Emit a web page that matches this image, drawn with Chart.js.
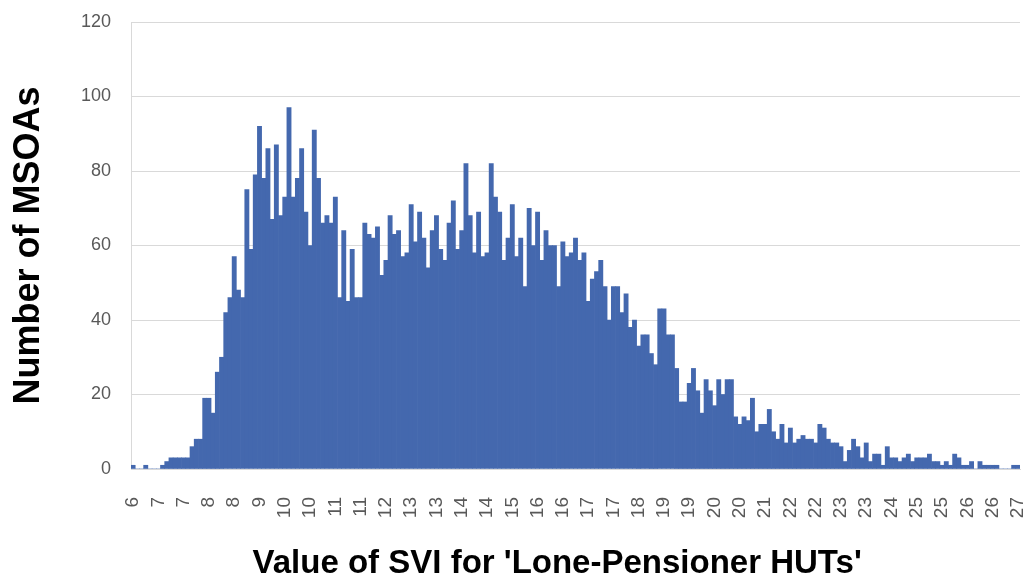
<!DOCTYPE html>
<html>
<head>
<meta charset="utf-8">
<title>SVI histogram</title>
<script src="https://cdn.jsdelivr.net/npm/chart.js@4.4.1/dist/chart.umd.min.js"></script>
<style>
  html, body { margin: 0; padding: 0; background: #fff; }
  #wrap { width: 1032px; height: 584px; }
</style>
</head>
<body>
<div id="wrap"><canvas id="myChart" width="1032" height="584"></canvas></div>
<script>
// Histogram bins: 0.1 wide, 6.0 ... 27.0
const binStart = 6.0;
const binWidth = 0.1;
const binCount = 211;

// Number of MSOAs per bin
const counts = [
    1, 0, 0, 1, 0, 0, 0, 1, 2, 3,
    3, 3, 3, 3, 6, 8, 8, 19, 19, 15,
    26, 30, 42, 46, 57, 48, 46, 75, 59, 79,
    92, 78, 86, 67, 87, 68, 73, 97, 73, 78,
    86, 69, 60, 91, 78, 66, 68, 66, 73, 46,
    64, 45, 59, 46, 46, 66, 63, 62, 65, 52,
    56, 68, 63, 64, 57, 58, 71, 61, 69, 62,
    54, 64, 68, 59, 56, 66, 72, 59, 64, 82,
    68, 58, 69, 57, 58, 82, 73, 69, 56, 62,
    71, 57, 62, 49, 70, 60, 69, 56, 64, 60,
    60, 49, 61, 57, 58, 62, 56, 58, 45, 51,
    53, 56, 49, 40, 49, 49, 42, 47, 38, 40,
    33, 36, 36, 31, 28, 43, 43, 36, 36, 27,
    18, 18, 23, 27, 21, 15, 24, 21, 17, 24,
    20, 24, 24, 14, 12, 14, 13, 19, 10, 12,
    12, 16, 10, 8, 12, 7, 11, 7, 8, 9,
    8, 8, 7, 12, 11, 8, 7, 7, 6, 2,
    5, 8, 6, 3, 7, 2, 4, 4, 1, 6,
    3, 3, 2, 3, 4, 2, 3, 3, 3, 4,
    2, 2, 1, 2, 1, 4, 3, 1, 1, 2,
    0, 2, 1, 1, 1, 1, 0, 0, 0, 1,
    1
];

// Excel shows every 6th bin, rounded to whole numbers
const tickLabels = ['6', '7', '7', '8', '8', '9', '10', '10', '11', '11', '12', '13',
    '13', '14', '14', '15', '16', '16', '17', '17', '18', '19', '19', '20',
    '20', '21', '22', '22', '23', '23', '24', '25', '25', '26', '26', '27'];
const labelEvery = 6;

const binLabels = [];
for (let i = 0; i < binCount; i++) {
    binLabels.push((binStart + i * binWidth).toFixed(1));
}

const ctx = document.getElementById('myChart').getContext('2d');
const chart = new Chart(ctx, {
    type: 'bar',
    data: {
        labels: binLabels,
        datasets: [{
            label: 'MSOAs',
            data: counts,
            backgroundColor: '#4468ae',
            borderWidth: 0,
            barPercentage: 1,
            categoryPercentage: 1
        }]
    },
    options: {
        responsive: false,
        animation: false,
        layout: { padding: { top: 22, right: 12, left: 0, bottom: 0 } },
        plugins: {
            legend: { display: false },
            tooltip: { enabled: false }
        },
        scales: {
            x: {
                grid: { display: false },
                border: { color: '#d9d9d9' },
                ticks: {
                    autoSkip: false,
                    minRotation: 90,
                    maxRotation: 90,
                    padding: 20,
                    color: '#595959',
                    font: { family: 'Liberation Sans, Arial', size: 19 },
                    callback: function(val, idx) {
                        return idx % labelEvery === 0 ? tickLabels[idx / labelEvery] : '';
                    }
                },
                title: {
                    display: true,
                    // trailing spaces nudge the centred title a little to the left, as in Excel
                    text: "Value of SVI for 'Lone-Pensioner HUTs'\u00a0\u00a0\u00a0\u00a0",
                    color: '#000',
                    font: { family: 'Liberation Sans, Arial', size: 33, weight: 'bold' },
                    padding: { top: 0, bottom: 0 }
                },
                afterFit: function(scale) {
                    scale.height = 115;
                    scale.paddingLeft = 0;
                    scale.paddingRight = 0;
                }
            },
            y: {
                min: 0,
                max: 120,
                grid: { color: '#d9d9d9', drawTicks: false },
                border: { color: '#d9d9d9' },
                ticks: {
                    stepSize: 20,
                    padding: 20,
                    color: '#595959',
                    font: { family: 'Liberation Sans, Arial', size: 18 }
                },
                title: {
                    display: true,
                    text: 'Number of MSOAs',
                    color: '#000',
                    font: { family: 'Liberation Sans, Arial', size: 36, weight: 'bold' },
                    padding: { top: 7, bottom: 0 }
                },
                afterFit: function(scale) {
                    scale.width = 131;
                    scale.paddingTop = 0;
                    scale.paddingBottom = 0;
                }
            }
        }
    }
});
</script>
</body>
</html>
